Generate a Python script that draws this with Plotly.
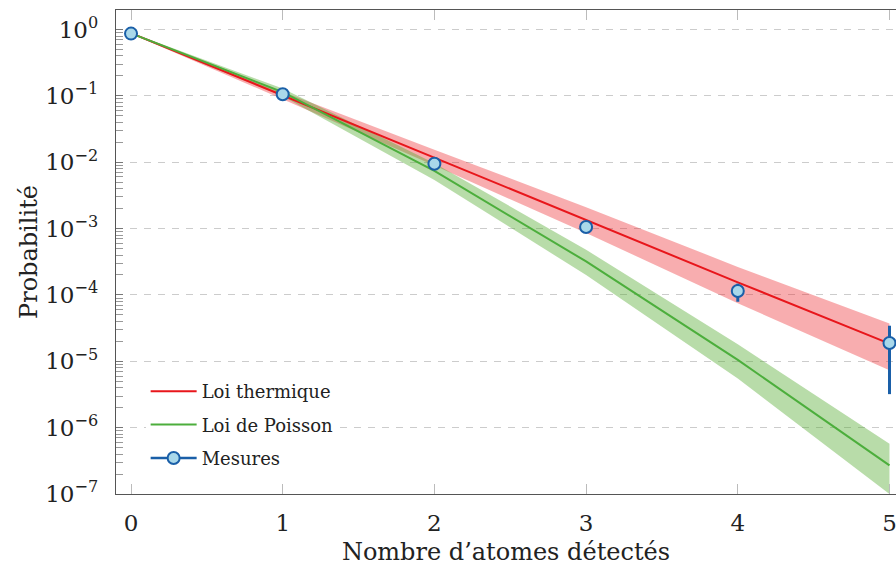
import plotly.graph_objects as go

# ---- data ----
n_atoms = [0, 1, 2, 3, 4, 5]

thermal = [0.885, 0.102, 0.0117, 0.00135, 1.55e-4, 1.85e-5]
thermal_hi = [0.90, 0.116, 0.0155, 0.0021, 2.65e-4, 3.7e-5]
thermal_lo = [0.866, 0.089, 0.0089, 8.6e-4, 7.5e-5, 7.3e-6]

poisson = [0.878, 0.114, 0.0074, 3.2e-4, 1.05e-5, 2.7e-7]
poisson_hi = [0.896, 0.129, 0.0097, 4.8e-4, 1.8e-5, 5.7e-7]
poisson_lo = [0.861, 0.0986, 0.0054, 2.0e-4, 5.5e-6, 1.0e-7]

mesures = [0.87, 0.106, 0.0095, 0.00106, 1.15e-4, 1.89e-5]
err_plus = [0, 0, 0, 0, 3.3e-5, 1.55e-5]
err_minus = [0, 0, 0, 0, 3.6e-5, 1.57e-5]

x_ticks = [0, 1, 2, 3, 4, 5]
y_exponents = [0, -1, -2, -3, -4, -5, -6, -7]

RED = "#e8161b"
GREEN = "#4cae3c"
BLUE = "#1a5fa8"
FONT = "DejaVu Serif"

fig = go.Figure()

# bands
fig.add_trace(go.Scatter(
    x=n_atoms + n_atoms[::-1], y=thermal_hi + thermal_lo[::-1],
    fill="toself", fillcolor="rgba(236,40,45,0.38)", line=dict(width=0),
    mode="lines", showlegend=False, hoverinfo="skip"))
fig.add_trace(go.Scatter(
    x=n_atoms + n_atoms[::-1], y=poisson_hi + poisson_lo[::-1],
    fill="toself", fillcolor="rgba(85,172,50,0.42)", line=dict(width=0),
    mode="lines", showlegend=False, hoverinfo="skip"))

# lines
fig.add_trace(go.Scatter(x=n_atoms, y=thermal, mode="lines",
                         line=dict(color=RED, width=2), name="Loi thermique",
                         legendgroup="a"))
fig.add_trace(go.Scatter(x=n_atoms, y=poisson, mode="lines",
                         line=dict(color=GREEN, width=2), name="Loi de Poisson",
                         legendgroup="b"))

# measurements
fig.add_trace(go.Scatter(
    x=n_atoms, y=mesures, mode="markers", showlegend=False, cliponaxis=False,
    marker=dict(size=12, color="#a9d8ea", line=dict(color=BLUE, width=2)),
    error_y=dict(type="data", array=err_plus, arrayminus=err_minus,
                 color=BLUE, thickness=3, width=0)))
# legend entry for measurements (line + marker glyph)
fig.add_trace(go.Scatter(
    x=[None], y=[None], mode="lines+markers", name="Mesures", legendgroup="c",
    line=dict(color=BLUE, width=2.5),
    marker=dict(size=12, color="#a9d8ea", line=dict(color=BLUE, width=2))))

minor_vals = []
for e in range(-7, 1):
    for m in range(2, 10):
        v = m * 10.0 ** e
        if v < 1.95:
            minor_vals.append(v)

fig.update_layout(
    width=896, height=566,
    margin=dict(l=116, r=0, t=10, b=72, autoexpand=False),
    paper_bgcolor="white", plot_bgcolor="white",
    font=dict(family=FONT, size=22, color="#222"),
    showlegend=True,
    legend=dict(x=0.038, y=0.25, xanchor="left", yanchor="top",
                bgcolor="white", borderwidth=0,
                font=dict(family=FONT, size=18, color="#222"),
                itemwidth=46, tracegroupgap=7, traceorder="grouped"),
    xaxis=dict(
        range=[-0.099, 5.043], tickvals=x_ticks,
        ticktext=[str(v) for v in x_ticks],
        ticks="inside", ticklen=10, tickcolor="#bbbbbb", tickwidth=1,
        showline=True, linecolor="#555555", linewidth=1.3, mirror="ticks",
        showgrid=False, zeroline=False, ticklabelstandoff=8,
        ticklabeloverflow="allow",
        tickfont=dict(family=FONT, size=23),
        title=dict(text="Nombre d’atomes détectés", standoff=12,
                   font=dict(family=FONT, size=24)),
    ),
    yaxis=dict(
        type="log", range=[-7, 0.295],
        tickvals=[10.0 ** e for e in y_exponents],
        ticktext=["10<sup>%s</sup>" % (str(e).replace("-", "−")) for e in y_exponents],
        ticks="inside", ticklen=7, tickcolor="#777777", tickwidth=1,
        showline=True, linecolor="#555555", linewidth=1.3, mirror=False,
        showgrid=True, gridcolor="#cccccc", gridwidth=1, griddash="7px,7px",
        zeroline=False, ticklabelstandoff=12,
        tickfont=dict(family=FONT, size=23),
        minor=dict(tickvals=minor_vals, ticks="inside", ticklen=7,
                   tickcolor="#999999", showgrid=False),
        title=dict(text="Probabilité", standoff=0,
                   font=dict(family=FONT, size=24)),
    ),
)

fig.write_html("out.html",
               config={"displayModeBar": False},
               post_script="document.body.style.margin='0';"
                           "document.body.style.overflow='hidden';")
